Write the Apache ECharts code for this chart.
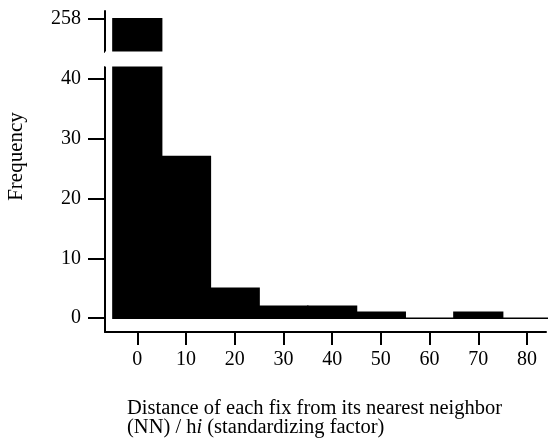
<!DOCTYPE html>
<html>
<head>
<meta charset="utf-8">
<script src="https://cdn.jsdelivr.net/npm/echarts@6.0.0/dist/echarts.min.js"></script>
<style>
html,body{margin:0;padding:0;background:#fff;}
#chart{width:548px;height:442px;}
</style>
</head>
<body>
<div id="chart"></div>
<script>
// Histogram bins (centre of each bin, width 10)
const binCenters = [0, 10, 20, 30, 40, 50, 60, 70, 80];
const counts = [258, 27, 5, 2, 2, 1, 0, 1, 0];
const binWidth = 10;
const xTickValues = [0, 10, 20, 30, 40, 50, 60, 70, 80];
const yTickValues = [0, 10, 20, 30, 40, 258];
const yTitle = 'Frequency';
const xTitleLines = ['Distance of each fix from its nearest neighbor', '(NN) / h{i|i} (standardizing factor)'];

const FONT = 'Liberation Serif';
const chart = echarts.init(document.getElementById('chart'));
const data = binCenters.map((c, i) => [c, counts[i]]);

chart.setOption({
  animation: false,
  backgroundColor: '#fff',
  grid: { left: 105, right: 2, top: 11, bottom: 110, containLabel: false },
  xAxis: {
    type: 'value',
    min: -6.63,
    max: 83.9,
    splitLine: { show: false },
    axisLine: { show: true, onZero: false, lineStyle: { color: '#000', width: 2 } },
    axisTick: { show: true, length: 13, lineStyle: { color: '#000', width: 2 }, customValues: xTickValues },
    axisLabel: { show: true, margin: 18, color: '#000', fontFamily: FONT, fontSize: 20, customValues: xTickValues }
  },
  yAxis: {
    type: 'value',
    min: -2.3,
    max: 259.3,
    breaks: [{ start: 42, end: 252.5, gap: 2.5 }],
    breakArea: {
      show: true,
      itemStyle: { color: '#fff', borderWidth: 0, opacity: 1 },
      zigzagAmplitude: 0,
      expandOnClick: false
    },
    splitLine: { show: false },
    axisLine: { show: true, onZero: false, breakLine: true, lineStyle: { color: '#000', width: 2 } },
    axisTick: { show: true, length: 17, lineStyle: { color: '#000', width: 2 }, customValues: yTickValues },
    axisLabel: { show: true, margin: 24, color: '#000', fontFamily: FONT, fontSize: 20, customValues: yTickValues }
  },
  graphic: [
    {
      type: 'text', rotation: Math.PI / 2,
      style: { text: yTitle, font: '21px "Liberation Serif"', fill: '#000', x: 0, y: 0, textAlign: 'center', textVerticalAlign: 'middle' },
      x: 16, y: 156.5
    },
    {
      type: 'text', x: 127, y: 399,
      style: {
        text: xTitleLines.join('\n'),
        font: '20.5px "Liberation Serif"', fill: '#000', lineHeight: 19,
        rich: { i: { fontStyle: 'italic', fontFamily: FONT, fontSize: 20.5 } }
      }
    }
  ],
  series: [{
    type: 'custom',
    data: data,
    encode: { x: 0, y: 1 },
    renderItem: function (params, api) {
      const c = api.value(0), v = api.value(1);
      const p0 = api.coord([c - binWidth / 2, 0]);
      const p1 = api.coord([c + binWidth / 2, v]);
      return {
        type: 'rect',
        shape: { x: p0[0], y: p1[1], width: p1[0] - p0[0], height: p0[1] - p1[1] },
        style: { fill: '#000', stroke: '#000', lineWidth: 1.5 }
      };
    }
  }]
});
</script>
</body>
</html>
